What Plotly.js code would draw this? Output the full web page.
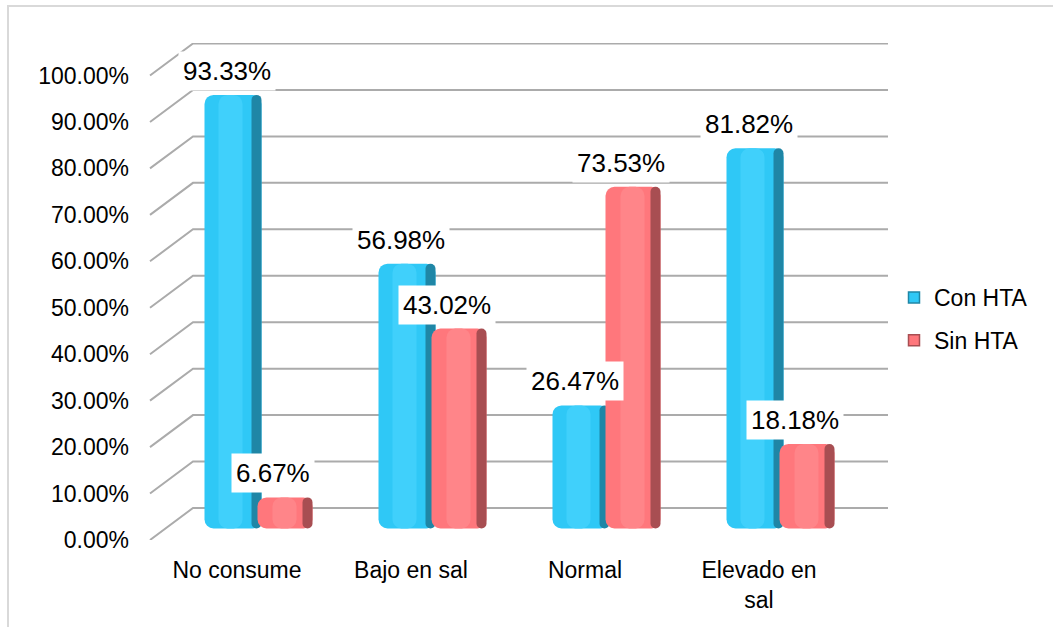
<!DOCTYPE html>
<html>
<head>
<meta charset="utf-8">
<script src="https://cdn.plot.ly/plotly-3.0.1.min.js"></script>
<style>
  html, body { margin: 0; padding: 0; background: #ffffff; }
  #chart { width: 1054px; height: 627px; }
</style>
</head>
<body>
<div id="chart"></div>
<script>
// Consumo de sal según presencia de hipertensión arterial (HTA)
const categories = ['No consume', 'Bajo en sal', 'Normal', 'Elevado en<br>sal'];
const conHTA = [93.33, 56.98, 26.47, 81.82];
const sinHTA = [6.67, 43.02, 73.53, 18.18];
const seriesNames = ['Con HTA', 'Sin HTA'];
const yTicks = [0, 10, 20, 30, 40, 50, 60, 70, 80, 90, 100];
const yTickLabels = ['0.00%', '10.00%', '20.00%', '30.00%', '40.00%', '50.00%',
                     '60.00%', '70.00%', '80.00%', '90.00%', '100.00%'];

// ---- geometry of the figure (pixels) ----
const W = 1054, H = 627;
const plotLeft = 150, plotRight = 888, plotTop = 43, plotBottom = 540;
const plotW = plotRight - plotLeft, plotH = plotBottom - plotTop;
const depthPx = 43;             // horizontal shift of the back wall
const yMax = 107;               // axis top (100 % on the back wall)
const depth = 32 / plotH * yMax; // vertical shift of the back wall, in axis units
const barBase = 2.5;            // bars stand slightly above the front edge of the floor
const frontSpan = 696;          // width of the four category slots on the front edge

const px2x = p => (p - plotLeft) / plotW;
const px2y = p => (plotBottom - p) / plotH;

const FONT = 'Liberation Sans, Arial, sans-serif';
const cyan = '#2FC8F6', cyanSide = '#1F86A6', cyanLight = '#40D0FB';
const red = '#FF777C', redSide = '#A84E52', redLight = '#FF8589';

// slot geometry in category units (one slot = 174 px)
const slot = frontSpan / 4;
const u = p => p / slot;

function barTrace(vals, name, color, offsetPx, widthPx, group) {
  return {
    type: 'bar', x: categories, y: vals, base: barBase,
    xaxis: 'x2', yaxis: 'y',
    name: name, legendgroup: group, showlegend: false,
    offset: u(offsetPx), width: u(widthPx),
    marker: { color: color, line: { width: 0 } },
    hoverinfo: 'skip'
  };
}

// square legend keys (no points of their own)
function legendKey(name, color, edge, group) {
  return {
    type: 'scatter', mode: 'markers', x: [null], y: [null],
    xaxis: 'x2', yaxis: 'y', name: name, legendgroup: group, showlegend: true,
    marker: { symbol: 'square', size: 11, color: color, line: { color: edge, width: 1.5 } },
    hoverinfo: 'skip'
  };
}

const traces = [
  barTrace(conHTA, seriesNames[0], cyan, -54, 57, 'con'),
  barTrace(conHTA, seriesNames[0], cyanLight, -40, 24, 'con'),
  barTrace(conHTA, seriesNames[0], cyanSide, -7, 10, 'con'),
  barTrace(sinHTA, seriesNames[1], red, -1, 55, 'sin'),
  barTrace(sinHTA, seriesNames[1], redLight, 14, 24, 'sin'),
  barTrace(sinHTA, seriesNames[1], redSide, 44, 10, 'sin'),
  legendKey(seriesNames[0], cyan, cyanSide, 'con'),
  legendKey(seriesNames[1], red, redSide, 'sin')
];

// perspective gridlines: a short diagonal on the side wall, then the back wall line
const grid = '#ABABAB';
const shapes = yTicks.map(v => ({
  type: 'path', xref: 'paper', yref: 'y', layer: 'below',
  path: `M 0,${v} L ${px2x(plotLeft + depthPx)},${v + depth} L 1,${v + depth}`,
  line: { color: grid, width: 2 }
}));
// outer chart frame (top and left edges)
shapes.push({
  type: 'path', xref: 'paper', yref: 'paper', layer: 'below',
  path: `M ${px2x(8)},${px2y(W)} L ${px2x(8)},${px2y(6)} L ${px2x(1053)},${px2y(6)}`,
  line: { color: '#D9D9D9', width: 2 }
});

// value labels in white boxes
const annotations = [];
[[conHTA, -32], [sinHTA, 14]].forEach(([vals, dx]) => {
  vals.forEach((v, i) => {
    annotations.push({
      xref: 'x2', yref: 'y', x: categories[i], y: v + barBase,
      xshift: dx, yshift: 24, yanchor: 'middle', xanchor: 'center',
      text: v.toFixed(2) + '%', showarrow: false,
      font: { family: FONT, size: 26, color: '#000000' },
      bgcolor: '#ffffff', borderpad: 4
    });
  });
});

const layout = {
  width: W, height: H,
  margin: { l: plotLeft, r: W - plotRight, t: plotTop, b: H - plotBottom, pad: 0 },
  paper_bgcolor: '#ffffff', plot_bgcolor: 'rgba(0,0,0,0)',
  font: { family: FONT, size: 23, color: '#000000' },
  barmode: 'overlay',
  barcornerradius: 9,
  showlegend: true,
  legend: {
    x: px2x(894), xanchor: 'left', y: px2y(319), yanchor: 'middle',
    font: { family: FONT, size: 23, color: '#000000' },
    traceorder: 'grouped', tracegroupgap: 10, bgcolor: 'rgba(0,0,0,0)',
    itemwidth: 30
  },
  xaxis: {
    domain: [0, frontSpan / plotW], anchor: 'y',
    type: 'category', categoryarray: categories,
    showgrid: false, zeroline: false, showline: false,
    ticks: '', ticklabelstandoff: 14,
    tickfont: { family: FONT, size: 23 }, fixedrange: true
  },
  xaxis2: {
    domain: [depthPx / 2 / plotW, (frontSpan + depthPx / 2) / plotW], anchor: 'y',
    type: 'category', categoryarray: categories,
    showgrid: false, zeroline: false, showline: false, showticklabels: false, ticks: '',
    fixedrange: true
  },
  yaxis: {
    range: [0, yMax], anchor: 'x',
    tickmode: 'array', tickvals: yTicks, ticktext: yTickLabels,
    showgrid: false, zeroline: false, showline: false,
    ticks: '', ticklabelstandoff: 20,
    tickfont: { family: FONT, size: 23 }, fixedrange: true
  },
  shapes: shapes,
  annotations: annotations
};

// an invisible trace keeps the front category axis populated
traces.unshift({
  type: 'bar', x: categories, y: categories.map(() => 0), xaxis: 'x', yaxis: 'y',
  showlegend: false, hoverinfo: 'skip', marker: { color: 'rgba(0,0,0,0)' }
});

Plotly.newPlot('chart', traces, layout, { displayModeBar: false, staticPlot: true });
</script>
</body>
</html>
